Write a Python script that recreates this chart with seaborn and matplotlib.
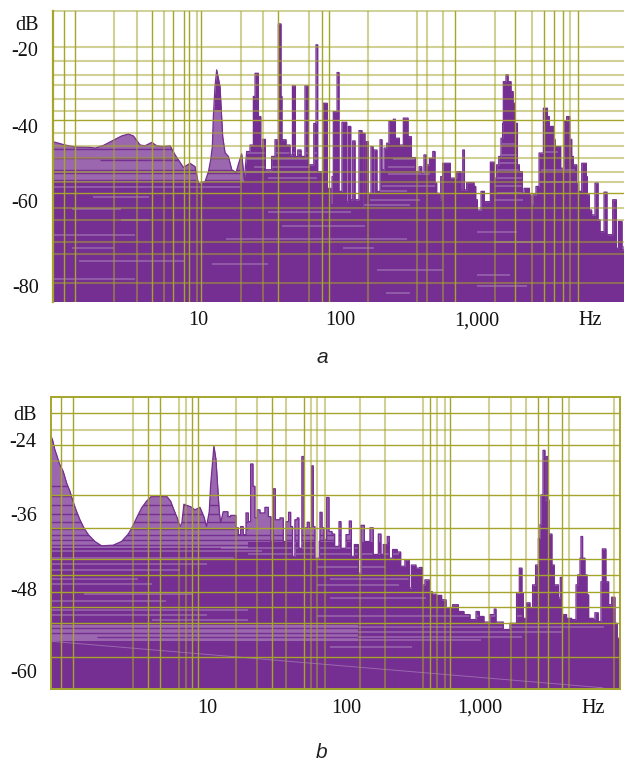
#!/usr/bin/env python3
# two noise spectra, dB against log frequency
import numpy as np
import matplotlib
matplotlib.use('Agg')
import matplotlib.pyplot as plt
import seaborn as sns

# envelope of panel a: log10(Hz) and dB
a_log_hz = [-0.043, 0.0, 0.047, 0.119, 0.226, 0.262, 0.322, 0.405, 0.453, 0.501, 0.537, 0.585, 0.620, 0.668, 0.704,
            0.752, 0.800, 0.836, 0.867, 0.895, 0.943, 0.979, 1.003, 1.051, 1.075, 1.091, 1.103, 1.110, 1.122, 1.134,
            1.158, 1.168, 1.177, 1.194, 1.218, 1.242, 1.273, 1.292, 1.313, 1.332, 1.349, 1.373, 1.397, 1.409, 1.433,
            1.450, 1.464, 1.483, 1.528, 1.552, 1.576, 1.595, 1.602, 1.631, 1.660, 1.677, 1.698, 1.715, 1.739, 1.767,
            1.791, 1.830, 1.846, 1.858, 1.896, 1.927, 1.951, 1.961, 1.970, 1.997, 2.011, 2.032, 2.066, 2.078, 2.095,
            2.109, 2.126, 2.154, 2.176, 2.185, 2.197, 2.207, 2.221, 2.240, 2.255, 2.262, 2.283, 2.305, 2.319, 2.334,
            2.353, 2.369, 2.400, 2.415, 2.444, 2.472, 2.506, 2.530, 2.558, 2.585, 2.604, 2.620, 2.637, 2.659, 2.683,
            2.699, 2.711, 2.730, 2.740, 2.754, 2.809, 2.855, 2.886, 2.898, 2.910, 2.926, 2.979, 2.991, 3.003, 3.029,
            3.053, 3.096, 3.125, 3.141, 3.156, 3.172, 3.184, 3.189, 3.208, 3.223, 3.244, 3.259, 3.275, 3.290, 3.304,
            3.325, 3.337, 3.376, 3.388, 3.400, 3.423, 3.445, 3.476, 3.505, 3.519, 3.548, 3.560, 3.600, 3.624, 3.643,
            3.665, 3.679, 3.691, 3.715, 3.729, 3.751, 3.784, 3.791, 3.806, 3.822, 3.846, 3.868, 3.882, 3.911, 3.932,
            3.973, 3.999, 4.014, 4.040, 4.054]
a_db = [-44.4, -44.8, -45.3, -45.8, -45.9, -46.1, -45.4, -43.8, -42.9, -42.4, -42.9, -45.3, -45.5, -44.6, -45.5,
        -45.7, -45.5, -47.9, -49.6, -51.2, -50.1, -51.0, -55.5, -54.9, -52.3, -49.2, -45.7, -37.8, -29.9, -25.5,
        -29.9, -36.9, -43.1, -47.3, -48.3, -51.8, -52.5, -50.1, -47.6, -54.5, -47.0, -45.3, -32.5, -26.4, -37.8,
        -46.1, -43.8, -51.8, -48.3, -43.9, -13.4, -32.5, -43.9, -45.3, -47.9, -29.7, -48.3, -46.6, -48.3, -29.7,
        -50.5, -39.6, -18.9, -52.3, -34.3, -56.7, -60.6, -53.6, -36.5, -26.2, -57.5, -39.3, -60.2, -40.4, -59.7,
        -44.2, -59.7, -41.5, -61.7, -42.2, -58.0, -44.4, -58.0, -45.7, -58.0, -46.6, -57.5, -43.9, -51.8, -46.1,
        -44.8, -39.1, -38.5, -43.5, -45.3, -38.2, -43.1, -48.6, -52.3, -51.0, -52.7, -47.9, -50.5, -48.8, -47.0,
        -55.3, -58.0, -59.7, -53.6, -50.1, -54.0, -52.3, -57.1, -46.6, -57.1, -55.2, -56.2, -59.7, -62.4, -57.5,
        -60.2, -49.8, -54.0, -50.5, -48.3, -43.5, -39.6, -28.6, -26.8, -28.6, -31.2, -34.3, -39.6, -50.5, -52.3,
        -58.0, -56.7, -58.4, -61.0, -58.4, -56.2, -47.4, -35.6, -37.8, -40.4, -43.8, -45.7, -51.4, -39.1, -37.8,
        -43.8, -48.3, -50.5, -55.3, -57.5, -50.1, -53.6, -58.4, -62.4, -63.7, -55.3, -65.0, -68.1, -57.7, -68.9,
        -59.7, -72.5, -65.4, -72.9, -72.0]

# envelope of panel b
b_log_hz = [-0.141, -0.127, -0.110, -0.093, -0.078, -0.049, -0.024, 0.0, 0.019, 0.044, 0.073, 0.102, 0.134, 0.182,
            0.231, 0.316, 0.377, 0.426, 0.457, 0.491, 0.523, 0.559, 0.596, 0.706, 0.735, 0.759, 0.783, 0.803, 0.817,
            0.832, 0.881, 0.912, 0.949, 0.978, 0.997, 1.017, 1.027, 1.041, 1.051, 1.066, 1.078, 1.090, 1.100, 1.119,
            1.153, 1.173, 1.212, 1.229, 1.246, 1.265, 1.285, 1.302, 1.319, 1.336, 1.350, 1.367, 1.387, 1.423, 1.448,
            1.467, 1.484, 1.499, 1.533, 1.557, 1.577, 1.596, 1.611, 1.625, 1.642, 1.659, 1.671, 1.693, 1.708, 1.732,
            1.747, 1.764, 1.776, 1.788, 1.820, 1.825, 1.840, 1.854, 1.874, 1.891, 1.913, 1.932, 1.964, 1.978, 2.015,
            2.039, 2.054, 2.076, 2.105, 2.124, 2.149, 2.190, 2.214, 2.251, 2.270, 2.287, 2.316, 2.331, 2.355, 2.389,
            2.414, 2.445, 2.477, 2.492, 2.526, 2.555, 2.572, 2.591, 2.623, 2.645, 2.672, 2.713, 2.745, 2.793, 2.835,
            2.876, 2.920, 2.964, 2.988, 3.022, 3.066, 3.097, 3.110, 3.163, 3.212, 3.260, 3.280, 3.299, 3.309, 3.333,
            3.358, 3.377, 3.399, 3.419, 3.431, 3.438, 3.453, 3.467, 3.477, 3.489, 3.496, 3.518, 3.535, 3.565, 3.579,
            3.591, 3.625, 3.662, 3.694, 3.706, 3.723, 3.730, 3.742, 3.759, 3.774, 3.786, 3.820, 3.832, 3.856, 3.876,
            3.886, 3.912, 3.932, 3.954, 3.978, 3.995, 4.015]
b_db = [-23.3, -24.0, -25.6, -26.7, -27.8, -29.1, -31.0, -32.3, -33.7, -35.3, -36.9, -38.2, -39.3, -40.4,
        -41.1, -41.0, -40.4, -39.2, -38.0, -36.4, -35.0, -33.9, -33.1, -33.1, -33.9, -35.3, -36.6, -38.0, -37.4,
        -34.4, -34.8, -35.3, -34.9, -36.4, -38.0, -35.6, -31.3, -27.5, -25.0, -27.2, -31.3, -35.6, -37.4, -35.6,
        -36.4, -36.2, -38.2, -39.3, -38.0, -39.3, -35.8, -37.2, -27.9, -31.5, -36.6, -35.3, -35.8, -34.9, -36.4,
        -40.4, -31.9, -36.9, -36.6, -40.4, -37.2, -35.7, -38.0, -42.8, -36.9, -36.6, -41.5, -26.7, -38.2, -37.3,
        -38.2, -28.2, -38.0, -43.1, -40.4, -35.7, -38.2, -40.1, -33.3, -38.8, -39.2, -41.2, -37.2, -41.5, -39.3,
        -37.1, -42.8, -40.9, -45.5, -37.8, -40.4, -38.2, -42.5, -39.2, -42.5, -40.9, -39.6, -43.1, -41.7, -42.1,
        -44.4, -43.4, -47.9, -44.2, -44.7, -44.6, -47.4, -46.6, -48.5, -48.9, -49.1, -49.8, -51.2, -50.6, -51.7,
        -52.2, -53.0, -51.7, -52.5, -53.4, -52.2, -51.3, -53.4, -54.6, -53.6, -48.7, -44.7, -48.7, -52.8, -50.3,
        -51.2, -47.4, -44.2, -39.9, -37.7, -32.9, -25.7, -33.7, -26.7, -33.7, -39.2, -44.2, -47.4, -49.5, -46.2,
        -52.2, -52.8, -53.0, -47.4, -45.8, -43.1, -39.6, -43.1, -45.8, -49.0, -52.8, -53.0, -51.9, -53.3, -46.9,
        -41.6, -46.9, -50.6, -49.4, -53.6, -56.0, -56.0]

# below these frequencies the envelope is a smooth curve, above them a staircase
a_smooth_to = 1.335
b_smooth_to = 1.105

# grid of panel a
a_vgrid_dark = [0.042, 0.119, 0.668, 0.824, 0.898, 0.938, 1.022, 1.572, 1.891, 1.942, 2.845, 3.275, 3.483, 3.555, 3.619, 3.727]
a_vgrid_light = [0.401, 0.566, 0.757, 0.991, 1.311, 1.464, 1.799, 2.216, 2.568, 2.640, 2.754, 3.129, 3.397, 3.667]
a_hgrid_dark = [-38.8, -58.0]
a_hgrid_light = [-19.6, -23.1, -26.8, -29.6, -33.2, -36.3, -42.0, -45.5, -48.7, -52.3, -55.0, -61.9, -65.0, -70.9, -73.9, -81.7]

# grid of panel b
b_vgrid_dark = [-0.063, 0.019, 0.572, 0.659, 0.893, 0.937, 1.477, 1.708, 2.630, 2.776, 3.414, 3.492, 3.594]
b_vgrid_light = [0.457, 0.793, 0.847, 1.214, 1.365, 1.574, 1.757, 1.801, 1.861, 2.119, 2.299, 2.579, 2.681, 2.735,
                 3.056, 3.222, 3.329, 3.645, 3.971]
b_hgrid_dark = [-19.7, -24.9, -32.9, -38.2, -43.2, -45.8, -48.5, -51.0, -53.6, -59.1]
b_hgrid_light = [-22.5, -27.5]

# paler regions inside the filled area: log Hz from, to, dB top, bottom
a_band_from = [-0.05]
a_band_to = [1.33]
a_band_top = [-36.0]
a_band_bottom = [-54.9]
b_band_from = [-0.15, 1.30, -0.15]
b_band_to = [1.30, 2.40, 2.10]
b_band_top = [-23.0, -25.0, -53.8]
b_band_bottom = [-41.5, -40.5, -56.5]

# streaks inside the fill: dB, log Hz from, log Hz to
a_dark_db = [-46.4, -48.8, -49.2, -52.0, -52.6, -54.4]
a_dark_from = [-0.05, -0.05, 0.3, -0.05, -0.05, -0.05]
a_dark_to = [1.0, 1.3, 1.0, 1.3, 1.3, 1.3]
a_pale_db = [-56.3, -58.9, -62.2, -65.0, -69.0, -72.4, -75.8, -80.6, -76.5, -63.0, -66.5, -70.0, -57.3, -59.7, -61.0,
             -58.0, -59.7, -68.1, -70.7, -72.4, -78.2, -79.5, -82.5, -84.3, -42.0, -45.0, -48.0, -50.0, -52.0, -54.0,
             -56.0, -47.5, -49.0, -51.0, -52.5, -54.0, -49.0, -51.0, -53.0, -56.0, -42.0, -47.0, -52.0, -55.0]
a_pale_from = [-0.04, 0.25, 0.10, 0.45, -0.04, 0.10, 0.15, -0.04, 1.10, 1.50, 1.60, 1.20, 2.28, 2.23, 2.19,
               3.14, 3.12, 3.00, 3.12, 2.04, 2.28, 3.00, 3.00, 2.35, 3.18, 3.16, 3.14, 3.14, 3.13, 3.13,
               3.13, 1.34, 1.34, 1.40, 1.34, 1.50, 2.40, 2.36, 2.36, 2.32, 3.48, 3.46, 3.46, 3.44]
a_pale_to = [1.30, 0.65, 0.45, 0.65, 0.55, 0.40, 0.90, 0.55, 1.50, 2.10, 2.20, 2.50, 2.50, 2.59, 2.52,
             3.33, 3.33, 3.29, 3.48, 2.26, 2.76, 3.24, 3.36, 2.52, 3.27, 3.28, 3.30, 3.31, 3.32, 3.33,
             3.33, 1.90, 1.90, 1.80, 1.90, 1.85, 2.60, 2.62, 2.66, 2.70, 3.56, 3.58, 3.70, 3.72]
b_dark_db = [-31.5, -33.0, -34.5, -36.0, -37.2, -38.4, -39.4, -40.2, -41.0, -54.4, -55.1, -55.8]
b_dark_from = [-0.15, -0.15, -0.15, -0.15, -0.15, -0.15, -0.15, -0.15, -0.15, -0.15, -0.15, 0.2]
b_dark_to = [0.0, 0.8, 1.1, 1.1, 1.3, 1.3, 2.0, 2.1, 2.1, 2.1, 2.1, 2.1]
b_pale_db = [-42.0, -43.0, -44.0, -45.0, -46.4, -47.3, -48.8, -50.0, -51.4, -52.2, -53.0,
             -44.5, -46.5, -47.5, -49.5, -52.5, -57.5, -42.5, -41.5, -54.2, -55.0, -55.8, -56.3]
b_pale_from = [-0.14, -0.14, -0.14, -0.14, -0.14, -0.14, 0.1, -0.14, -0.14, -0.14, 0.6,
               1.8, 1.9, 1.8, 1.9, 1.8, 1.9, 1.3, 1.1, 2.1, 2.1, 2.1, 2.1]
b_pale_to = [1.4, 1.2, 1.0, 0.8, 0.5, 0.6, 0.9, 0.7, 1.3, 1.0, 1.3,
             2.3, 2.5, 2.4, 2.6, 3.3, 2.5, 2.4, 2.1, 3.9, 3.6, 3.3, 3.0]

# thin falling trace near the foot of panel b
b_trace_log_hz = [-0.14, 3.89]
b_trace_db = [-56.5, -64.0]

# tick positions and labels
a_ytick_db = [-13.2, -20.0, -40.3, -60.0, -82.4]
a_ytick_labels = ['dB', '-20', '-40', '-60', '-80']
a_xtick_hz = [10, 104, 1000, 6457]
b_ytick_db = [-19.7, -24.0, -36.0, -48.0, -61.3]
b_ytick_labels = ['dB', '-24', '-36', '-48', '-60']
b_xtick_hz = [10, 103.5, 984, 6577]
xtick_labels = ['10', '100', '1,000', 'Hz']

PURPLE = '#752e91'
PALE = '#9b68af'
STREAK = '#b08fc2'
OLIVE = '#a5a52c'


def hz(values):
    return 10 ** np.asarray(values)


def envelope(log_hz, db, smooth_to):
    # smooth part as it is, the rest held flat up to the next reading
    xs, ys = [], []
    for i, (x, y) in enumerate(zip(log_hz, db)):
        xs.append(x)
        ys.append(y)
        if x >= smooth_to and i < len(log_hz) - 1:
            xs.append(log_hz[i + 1])
            ys.append(y)
    return hz(xs), np.array(ys)


def draw_panel(ax, log_hz, db, smooth_to, ylim, bands, dark, pale, vgrid, hgrid, yticks, ylabels, xticks):
    f, level_db = envelope(log_hz, db, smooth_to)
    ax.set_xscale('log')
    ax.set_xlim(f[0], f[-1])
    ax.set_ylim(*ylim)

    fill = ax.fill_between(f, level_db, ylim[0], color=PURPLE, lw=0, zorder=1)
    clip = fill.get_paths()[0]
    inside = []
    for start, end, top, bottom in zip(*bands):
        inside.append(ax.fill_between(hz([start, end]), top, bottom, color=PALE, lw=0, zorder=2))
    for level, start, end in zip(*dark):
        inside.append(ax.hlines(level, hz(start), hz(end), color=PURPLE, lw=1.0, zorder=3))
    for level, start, end in zip(*pale):
        inside.append(ax.hlines(level, hz(start), hz(end), color=STREAK, lw=1.1, alpha=0.6, zorder=3))
    for artist in inside:
        artist.set_clip_path(clip, ax.transData)

    sns.lineplot(x=f, y=level_db, estimator=None, sort=False, color=PURPLE, lw=0.9, ax=ax, zorder=4)

    for v in vgrid[0]:
        ax.axvline(hz(v), color=OLIVE, lw=1.0, zorder=5)
    for v in vgrid[1]:
        ax.axvline(hz(v), color=OLIVE, lw=1.5, alpha=0.5, zorder=5)
    for h in hgrid[0]:
        ax.axhline(h, color=OLIVE, lw=1.0, zorder=5)
    for h in hgrid[1]:
        ax.axhline(h, color=OLIVE, lw=1.5, alpha=0.5, zorder=5)

    ax.set_yticks(yticks, ylabels)
    ax.set_xticks(xticks, xtick_labels)
    ax.xaxis.set_minor_locator(matplotlib.ticker.NullLocator())
    ax.tick_params(axis='both', length=0, labelsize=14.5, labelcolor='#111111')
    ax.tick_params(axis='x', pad=7)
    ax.tick_params(axis='y', pad=10)
    ax.set_xlabel('')
    ax.set_ylabel('')
    ax.set_facecolor('white')


sns.set_theme(style='white')
plt.rcParams['font.family'] = ['Liberation Serif', 'DejaVu Serif']

W, H = 624, 760
fig = plt.figure(figsize=(W / 100, H / 100), dpi=100)
ax_a = fig.add_axes([52.5 / W, 1 - 301.5 / H, (624 - 52.5) / W, (301.5 - 11) / H])
ax_b = fig.add_axes([50.6 / W, 1 - 689 / H, (620 - 50.6) / W, (689 - 397) / H])

draw_panel(ax_a, a_log_hz, a_db, a_smooth_to, (-86.5, -10.0),
           (a_band_from, a_band_to, a_band_top, a_band_bottom),
           (a_dark_db, a_dark_from, a_dark_to),
           (a_pale_db, a_pale_from, a_pale_to),
           (a_vgrid_dark, a_vgrid_light), (a_hgrid_dark, a_hgrid_light),
           a_ytick_db, a_ytick_labels, a_xtick_hz)
draw_panel(ax_b, b_log_hz, b_db, b_smooth_to, (-64.2, -17.1),
           (b_band_from, b_band_to, b_band_top, b_band_bottom),
           (b_dark_db, b_dark_from, b_dark_to),
           (b_pale_db, b_pale_from, b_pale_to),
           (b_vgrid_dark, b_vgrid_light), (b_hgrid_dark, b_hgrid_light),
           b_ytick_db, b_ytick_labels, b_xtick_hz)
ax_b.plot(hz(b_trace_log_hz), b_trace_db, color=STREAK, lw=0.7, alpha=0.6, zorder=3)

for side in ax_a.spines:
    ax_a.spines[side].set_visible(False)
ax_a.spines['left'].set_visible(True)
ax_a.spines['left'].set_color(OLIVE)
ax_a.spines['left'].set_linewidth(1.6)
ax_a.spines['left'].set_zorder(6)
ax_a.spines['top'].set_visible(True)
ax_a.spines['top'].set_color('#cfd19a')
ax_a.spines['top'].set_linewidth(1.4)
for side in ax_b.spines:
    ax_b.spines[side].set_color(OLIVE)
    ax_b.spines[side].set_linewidth(1.4)
    ax_b.spines[side].set_zorder(6)

fig.text(322 / W, 1 - 357 / H, 'a', family='Liberation Sans', style='italic', fontsize=15,
         ha='center', va='center', color='#222222')
fig.text(322 / W, 1 - 752 / H, 'b', family='Liberation Sans', style='italic', fontsize=15,
         ha='center', va='center', color='#222222')

fig.savefig('out.png', dpi=100)
